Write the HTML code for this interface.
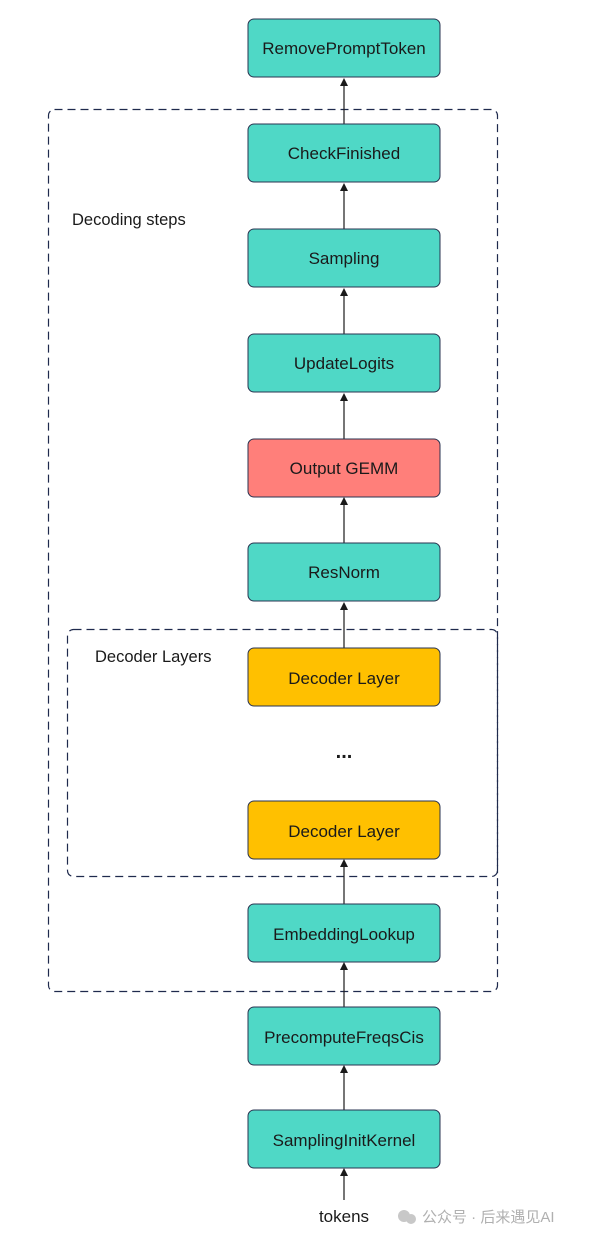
<!DOCTYPE html>
<html><head><meta charset="utf-8"><style>
html,body{margin:0;padding:0;background:#fff;}
svg{display:block;}
text{font-family:"Liberation Sans","Noto Sans CJK SC",sans-serif;}
</style></head><body>
<svg width="589" height="1239" viewBox="0 0 589 1239" xmlns="http://www.w3.org/2000/svg">
<rect x="48.5" y="109.5" width="449" height="882" rx="6" fill="none" stroke="#1f2a4d" stroke-width="1.2" stroke-dasharray="8,5"/>
<rect x="67.5" y="629.5" width="430" height="247" rx="6" fill="none" stroke="#1f2a4d" stroke-width="1.2" stroke-dasharray="8,5"/>
<text x="72" y="225" font-size="16.5" fill="#1a1a1a">Decoding steps</text>
<text x="95" y="662" font-size="16.5" fill="#1a1a1a">Decoder Layers</text>
<g stroke="#1a1a1a" stroke-width="1.2">
<line x1="344" y1="124" x2="344" y2="84"/>
<line x1="344" y1="229" x2="344" y2="189"/>
<line x1="344" y1="334" x2="344" y2="294"/>
<line x1="344" y1="439" x2="344" y2="399"/>
<line x1="344" y1="543" x2="344" y2="503"/>
<line x1="344" y1="648" x2="344" y2="608"/>
<line x1="344" y1="904" x2="344" y2="865"/>
<line x1="344" y1="1007" x2="344" y2="968"/>
<line x1="344" y1="1110" x2="344" y2="1071"/>
<line x1="344" y1="1200" x2="344" y2="1174"/>
</g>
<g fill="#1a1a1a">
<polygon points="344,78 340,86 348,86"/>
<polygon points="344,183 340,191 348,191"/>
<polygon points="344,288 340,296 348,296"/>
<polygon points="344,393 340,401 348,401"/>
<polygon points="344,497 340,505 348,505"/>
<polygon points="344,602 340,610 348,610"/>
<polygon points="344,859 340,867 348,867"/>
<polygon points="344,962 340,970 348,970"/>
<polygon points="344,1065 340,1073 348,1073"/>
<polygon points="344,1168 340,1176 348,1176"/>
</g>
<g stroke="#2a3350" stroke-width="1">
<rect x="248" y="19" width="192" height="58" rx="6" fill="#4fd8c6"/>
<rect x="248" y="124" width="192" height="58" rx="6" fill="#4fd8c6"/>
<rect x="248" y="229" width="192" height="58" rx="6" fill="#4fd8c6"/>
<rect x="248" y="334" width="192" height="58" rx="6" fill="#4fd8c6"/>
<rect x="248" y="439" width="192" height="58" rx="6" fill="#ff7f7a"/>
<rect x="248" y="543" width="192" height="58" rx="6" fill="#4fd8c6"/>
<rect x="248" y="648" width="192" height="58" rx="6" fill="#ffc000"/>
<rect x="248" y="801" width="192" height="58" rx="6" fill="#ffc000"/>
<rect x="248" y="904" width="192" height="58" rx="6" fill="#4fd8c6"/>
<rect x="248" y="1007" width="192" height="58" rx="6" fill="#4fd8c6"/>
<rect x="248" y="1110" width="192" height="58" rx="6" fill="#4fd8c6"/>
</g>
<g font-size="17" text-anchor="middle" fill="#1a1a1a">
<text x="344" y="54">RemovePromptToken</text>
<text x="344" y="159">CheckFinished</text>
<text x="344" y="264">Sampling</text>
<text x="344" y="369">UpdateLogits</text>
<text x="344" y="474">Output GEMM</text>
<text x="344" y="578">ResNorm</text>
<text x="344" y="684">Decoder Layer</text>
<text x="344" y="837">Decoder Layer</text>
<text x="344" y="940">EmbeddingLookup</text>
<text x="344" y="1043">PrecomputeFreqsCis</text>
<text x="344" y="1146">SamplingInitKernel</text>
<text x="344" y="1222">tokens</text>
<text x="344" y="758" font-size="20" font-weight="bold">...</text>
</g>
<text x="422" y="1222" font-size="15" fill="#b0b0b0">公众号 · 后来遇见AI</text>
<circle cx="404" cy="1216" r="6" fill="#c8c8c8"/>
<circle cx="411" cy="1219" r="5" fill="#c8c8c8"/>
</svg>
</body></html>
